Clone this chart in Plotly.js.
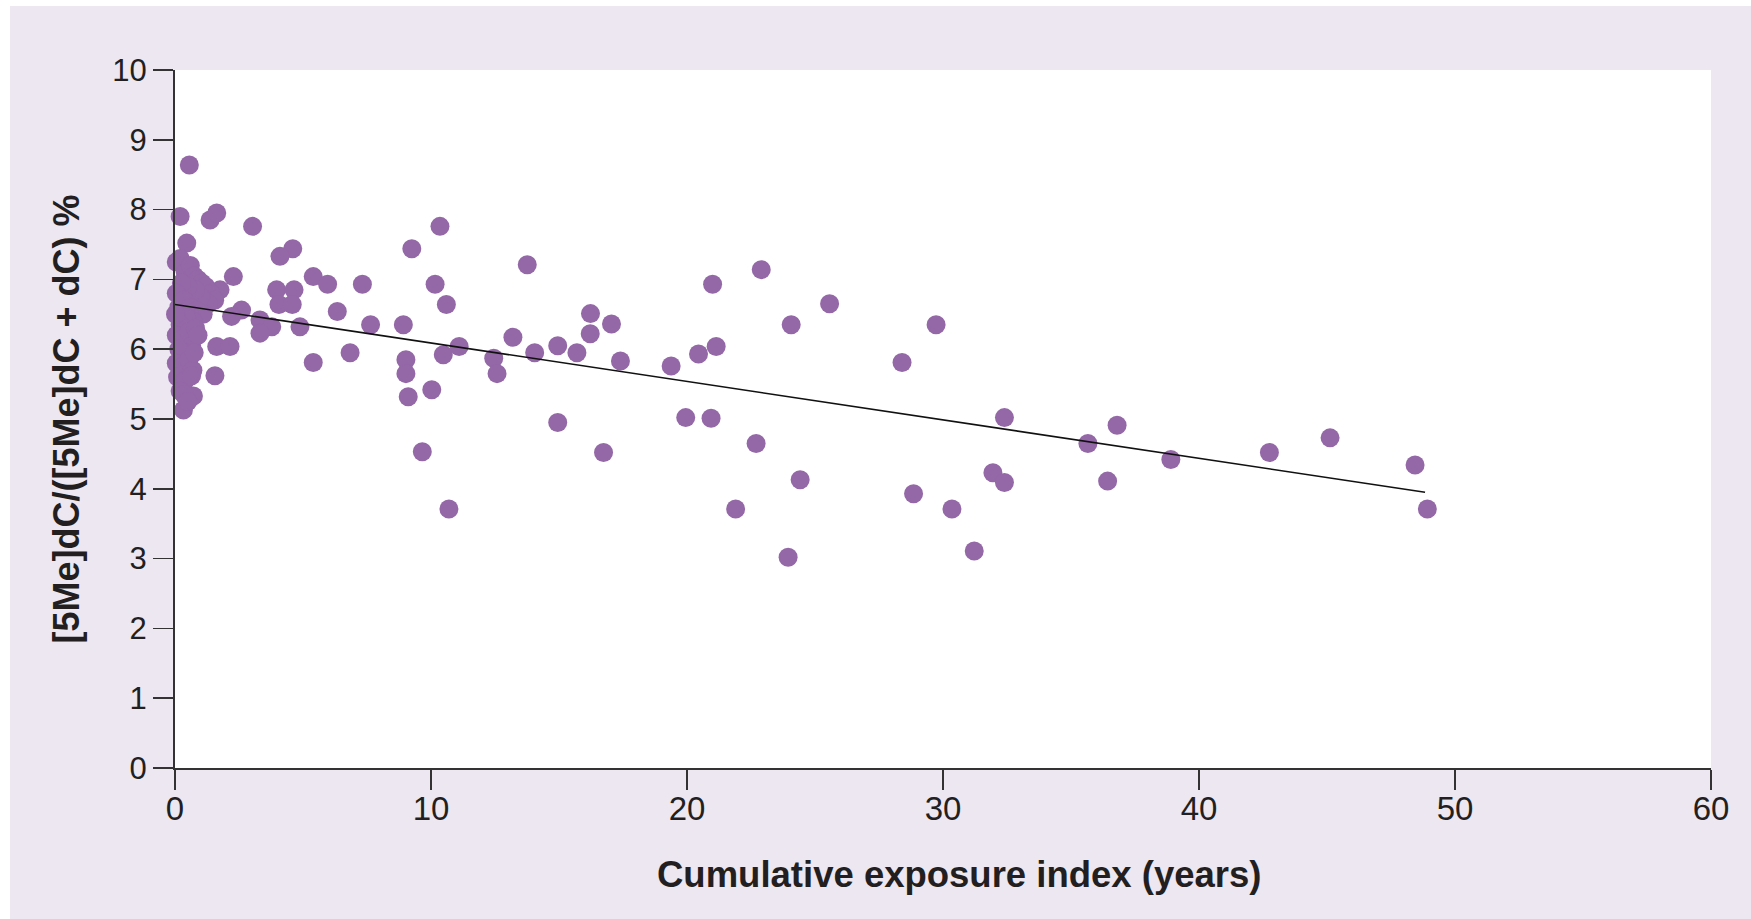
<!DOCTYPE html>
<html>
<head>
<meta charset="utf-8">
<script src="https://cdn.plot.ly/plotly-3.0.1.min.js"></script>
<style>
  html, body { margin: 0; padding: 0; background: #ffffff; }
  #chart { position: absolute; left: 10px; top: 6px; width: 1741px; height: 913px; }
</style>
</head>
<body>
<div id="chart"></div>
<script>
// Cumulative exposure index (years)
const exposureYears = [
  0.56, 0.2, 0.46, 1.37, 1.63, 3.03, 4.6, 4.1, 2.28, 1.76,
  3.97, 4.65, 4.06, 4.58, 5.4, 5.96, 7.32, 2.6, 2.21, 6.34,
  3.32, 3.78, 3.32, 4.88, 7.64, 8.92, 1.63, 2.15, 5.4, 6.84,
  9.02, 9.02, 10.03, 9.11, 10.48, 1.56, 0.72, 0.33, 9.25, 10.35,
  10.16, 10.6, 9.66, 10.7, 11.1, 12.45, 12.58, 13.2, 13.76, 14.05,
  14.95, 14.95, 15.7, 16.23, 16.22, 17.05, 17.4, 16.74, 19.38, 19.95,
  20.45, 20.94, 21.0, 21.14, 21.9, 22.7, 22.9, 23.95, 24.07, 24.42,
  25.57, 28.4, 28.85, 29.73, 30.35, 31.22, 31.95, 32.4, 32.4, 35.66,
  36.43, 36.8, 38.9, 42.75, 45.12, 48.44, 48.92,
  // dense cluster of low-exposure subjects
  0.05, 0.2, 0.4, 0.6, 0.75, 0.9, 1.05, 1.2, 1.4, 1.55,
  1.3, 1.0, 0.8, 0.5, 0.25, 0.05, 0.15, 0.35, 0.6, 0.85,
  1.1, 0.7, 0.45, 0.2, 0.05, 0.3, 0.55, 0.8, 0.65, 0.4,
  0.15, 0.05, 0.3, 0.55, 0.7, 0.1, 0.4, 0.65, 0.2, 0.02,
  0.9, 0.75, 0.35, 0.5
];
// [5Me]dC/([5Me]dC + dC) %
const methylationPct = [
  8.64, 7.9, 7.52, 7.85, 7.95, 7.76, 7.44, 7.33, 7.04, 6.85,
  6.85, 6.85, 6.64, 6.64, 7.04, 6.93, 6.93, 6.56, 6.47, 6.54,
  6.42, 6.32, 6.23, 6.32, 6.35, 6.35, 6.04, 6.04, 5.81, 5.95,
  5.85, 5.65, 5.42, 5.32, 5.92, 5.62, 5.33, 5.13, 7.44, 7.76,
  6.93, 6.64, 4.53, 3.71, 6.04, 5.87, 5.65, 6.17, 7.21, 5.95,
  6.05, 4.95, 5.95, 6.51, 6.22, 6.36, 5.83, 4.52, 5.76, 5.02,
  5.93, 5.01, 6.93, 6.04, 3.71, 4.65, 7.14, 3.02, 6.35, 4.13,
  6.65, 5.81, 3.93, 6.35, 3.71, 3.11, 4.23, 4.09, 5.02, 4.65,
  4.11, 4.91, 4.42, 4.52, 4.73, 4.34, 3.71,
  7.25, 7.3, 7.1, 7.2, 7.05, 7.0, 6.95, 6.9, 6.8, 6.7,
  6.65, 6.75, 6.85, 6.9, 6.95, 6.8, 6.6, 6.7, 6.6, 6.55,
  6.5, 6.4, 6.45, 6.35, 6.2, 6.15, 6.25, 6.3, 6.05, 5.95,
  6.0, 5.8, 5.75, 5.85, 5.7, 5.6, 5.55, 5.62, 5.4, 6.5,
  6.2, 5.95, 5.35, 5.25
];
// Regression line end points
const fitX = [0, 48.83];
const fitY = [6.64, 3.95];

const xTicks = [0, 10, 20, 30, 40, 50, 60];
const yTicks = [0, 1, 2, 3, 4, 5, 6, 7, 8, 9, 10];

const xTitle = 'Cumulative exposure index (years)';
const yTitle = '[5Me]dC/([5Me]dC + dC) %';

const purple = '#9467a7';
const axisColor = '#333333';
const textColor = '#231f20';
const fontFam = 'Liberation Sans, Arial, Helvetica, sans-serif';

const traces = [
  {
    type: 'scatter', mode: 'markers',
    x: exposureYears, y: methylationPct,
    marker: { color: purple, size: 19, line: { width: 0 } },
    cliponaxis: false, hoverinfo: 'x+y'
  },
  {
    type: 'scatter', mode: 'lines',
    x: fitX, y: fitY,
    line: { color: '#111111', width: 1.6 },
    cliponaxis: false, hoverinfo: 'skip'
  }
];

const layout = {
  width: 1741, height: 913,
  paper_bgcolor: '#ede7f2',
  plot_bgcolor: '#ffffff',
  showlegend: false,
  margin: { l: 165, r: 40, t: 64, b: 151 },
  font: { family: fontFam, color: textColor },
  xaxis: {
    range: [0, 60], tickvals: xTicks, ticktext: xTicks.map(String),
    showgrid: false, zeroline: false,
    showline: true, linecolor: axisColor, linewidth: 2,
    ticks: 'outside', ticklen: 20, tickwidth: 1.5, tickcolor: axisColor,
    ticklabelstandoff: -10,
    tickfont: { size: 33, family: fontFam, color: textColor }
  },
  yaxis: {
    range: [0, 10], tickvals: yTicks, ticktext: yTicks.map(String),
    showgrid: false, zeroline: false,
    showline: true, linecolor: axisColor, linewidth: 2,
    ticks: 'outside', ticklen: 20, tickwidth: 1.5, tickcolor: axisColor,
    tickfont: { size: 31, family: fontFam, color: textColor },
    title: { text: '<b>' + yTitle + '</b>', font: { size: 36, family: fontFam, color: textColor }, standoff: 22 }
  },
  annotations: [
    {
      text: '<b>' + xTitle + '</b>', showarrow: false,
      xref: 'paper', yref: 'paper', x: 0.511, y: -0.152,
      xanchor: 'center', yanchor: 'middle',
      font: { size: 36.5, family: fontFam, color: textColor }
    }
  ]
};

Plotly.newPlot('chart', traces, layout, { displayModeBar: false, staticPlot: true });
</script>
</body>
</html>
